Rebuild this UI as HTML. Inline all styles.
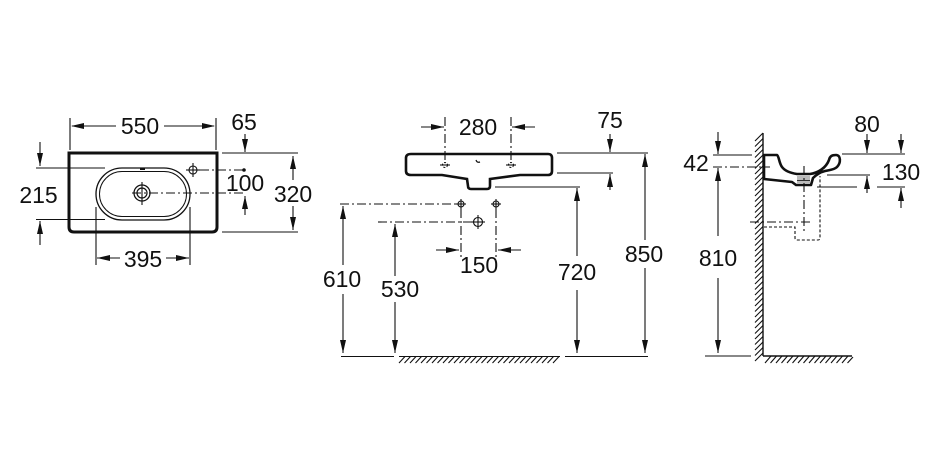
<!DOCTYPE html>
<html><head><meta charset="utf-8"><style>
html,body{margin:0;padding:0;background:#fff;}
svg{display:block;}
text{font-family:"Liberation Sans",Arial,sans-serif;font-size:23px;fill:#111;text-anchor:middle;}
</style></head><body>
<svg width="950" height="450" viewBox="0 0 950 450" xmlns="http://www.w3.org/2000/svg">
<g stroke="#111" stroke-width="1.1" fill="none">
<!-- ============ LEFT VIEW ============ -->
<path d="M69 153 L217 153 L217 227 Q217 232 212 232 L74 232 Q69 232 69 227 Z" stroke-width="3"/>
<rect x="96" y="168" width="94" height="52" rx="26" stroke-width="1.3"/>
<rect x="99.5" y="171.5" width="87" height="45" rx="22.5" stroke-width="1"/>
<circle cx="142" cy="193" r="8" stroke-width="1.3"/>
<circle cx="142" cy="193" r="5" stroke-width="1.2"/>
<line x1="142" y1="182" x2="142" y2="205"/>
<line x1="132" y1="193" x2="246" y2="193" stroke-dasharray="9 3 2 3"/>
<circle cx="193" cy="170" r="4"/>
<line x1="186" y1="170" x2="200" y2="170"/>
<line x1="193" y1="163" x2="193" y2="177"/>
<line x1="200" y1="170" x2="243" y2="170" stroke-dasharray="9 3 2 3"/>
<!-- 550 -->
<line x1="70" y1="118" x2="70" y2="150"/>
<line x1="216" y1="118" x2="216" y2="150"/>
<line x1="72" y1="126" x2="116" y2="126"/>
<line x1="164" y1="126" x2="214" y2="126"/>
<!-- 65 / 100 / 320 -->
<line x1="245" y1="134" x2="245" y2="152"/>
<line x1="245" y1="196" x2="245" y2="215"/>
<line x1="222" y1="153" x2="298" y2="153"/>
<line x1="222" y1="232" x2="298" y2="232"/>
<line x1="293" y1="156" x2="293" y2="180"/>
<line x1="293" y1="206" x2="293" y2="230"/>
<!-- 215 -->
<line x1="36" y1="168" x2="105" y2="168"/>
<line x1="36" y1="219.5" x2="105" y2="219.5"/>
<line x1="40" y1="142" x2="40" y2="166"/>
<line x1="40" y1="221" x2="40" y2="245"/>
<!-- 395 -->
<line x1="96" y1="207" x2="96" y2="265"/>
<line x1="190" y1="207" x2="190" y2="265"/>
<line x1="97" y1="258" x2="120" y2="258"/>
<line x1="166" y1="258" x2="189" y2="258"/>

<!-- ============ MIDDLE VIEW ============ -->
<path d="M411 154 L548 154 Q552 154 552 158 L552 171 Q552 175 548 175 L520 175 L490 179 L490 186 Q490 189 487 189 L471 189 Q468 189 468 186 L467 179 L442 175 L411 175 Q406 175 406 171 L406 158 Q406 154 411 154 Z" stroke-width="2.6"/>
<line x1="445" y1="117" x2="445" y2="162" stroke-dasharray="9 3 2 3"/>
<line x1="511" y1="117" x2="511" y2="162" stroke-dasharray="9 3 2 3"/>
<circle cx="445" cy="165" r="2.5" stroke-dasharray="2 1.5"/>
<line x1="440" y1="165" x2="450" y2="165"/>
<circle cx="511" cy="165" r="2.5" stroke-dasharray="2 1.5"/>
<line x1="506" y1="165" x2="516" y2="165"/>
<path d="M476 160 Q477 163 480 162" stroke-width="1.2"/>
<!-- 280 -->
<line x1="421" y1="127" x2="444" y2="127"/>
<line x1="512" y1="127" x2="535" y2="127"/>
<!-- 75 / 720 / 850 -->
<line x1="557" y1="153" x2="648" y2="153"/>
<line x1="557" y1="173" x2="613" y2="173"/>
<line x1="495" y1="187" x2="580" y2="187"/>
<line x1="610" y1="134" x2="610" y2="152"/>
<line x1="610" y1="174" x2="610" y2="190"/>
<line x1="577" y1="188" x2="577" y2="256"/>
<line x1="577" y1="290" x2="577" y2="353"/>
<line x1="645" y1="154" x2="645" y2="240"/>
<line x1="645" y1="268" x2="645" y2="353"/>
<!-- 610 / 530 -->
<line x1="340" y1="204" x2="458" y2="204" stroke-dasharray="9 3 2 3"/>
<line x1="378" y1="222" x2="474" y2="222" stroke-dasharray="9 3 2 3"/>
<circle cx="461" cy="204" r="3"/>
<line x1="456" y1="204" x2="466" y2="204"/>
<line x1="461" y1="199" x2="461" y2="209"/>
<circle cx="496" cy="204" r="3"/>
<line x1="491" y1="204" x2="501" y2="204"/>
<line x1="496" y1="199" x2="496" y2="209"/>
<circle cx="478" cy="222" r="4.5"/>
<line x1="471" y1="222" x2="485" y2="222"/>
<line x1="478" y1="215" x2="478" y2="229"/>
<line x1="461" y1="209" x2="461" y2="258" stroke-dasharray="9 3 2 3"/>
<line x1="496" y1="209" x2="496" y2="258" stroke-dasharray="9 3 2 3"/>
<line x1="436" y1="250" x2="459" y2="250"/>
<line x1="498" y1="250" x2="521" y2="250"/>
<line x1="343" y1="206" x2="343" y2="265"/>
<line x1="343" y1="294" x2="343" y2="353"/>
<line x1="395" y1="224" x2="395" y2="276"/>
<line x1="395" y1="302" x2="395" y2="353"/>
<!-- floor middle -->
<line x1="341" y1="356.5" x2="394" y2="356.5"/>
<line x1="399" y1="356.5" x2="560" y2="356.5"/>
<line x1="565" y1="356.5" x2="648" y2="356.5"/>
<path d="M399 363 L405 356.5 M404.5 363 L410.5 356.5 M410 363 L416 356.5 M415.5 363 L421.5 356.5 M421 363 L427 356.5 M426.5 363 L432.5 356.5 M432 363 L438 356.5 M437.5 363 L443.5 356.5 M443 363 L449 356.5 M448.5 363 L454.5 356.5 M454 363 L460 356.5 M459.5 363 L465.5 356.5 M465 363 L471 356.5 M470.5 363 L476.5 356.5 M476 363 L482 356.5 M481.5 363 L487.5 356.5 M487 363 L493 356.5 M492.5 363 L498.5 356.5 M498 363 L504 356.5 M503.5 363 L509.5 356.5 M509 363 L515 356.5 M514.5 363 L520.5 356.5 M520 363 L526 356.5 M525.5 363 L531.5 356.5 M531 363 L537 356.5 M536.5 363 L542.5 356.5 M542 363 L548 356.5 M547.5 363 L553.5 356.5 M553 363 L559 356.5"/>

<!-- ============ RIGHT VIEW ============ -->
<line x1="763" y1="133" x2="763" y2="356" stroke-width="1.4"/>
<path d="M755 141 L763 133 M755 146.5 L763 138.5 M755 152 L763 144 M755 157.5 L763 149.5 M755 163 L763 155 M755 168.5 L763 160.5 M755 174 L763 166 M755 179.5 L763 171.5 M755 185 L763 177 M755 190.5 L763 182.5 M755 196 L763 188 M755 201.5 L763 193.5 M755 207 L763 199 M755 212.5 L763 204.5 M755 218 L763 210 M755 223.5 L763 215.5 M755 229 L763 221 M755 234.5 L763 226.5 M755 240 L763 232 M755 245.5 L763 237.5 M755 251 L763 243 M755 256.5 L763 248.5 M755 262 L763 254 M755 267.5 L763 259.5 M755 273 L763 265 M755 278.5 L763 270.5 M755 284 L763 276 M755 289.5 L763 281.5 M755 295 L763 287 M755 300.5 L763 292.5 M755 306 L763 298 M755 311.5 L763 303.5 M755 317 L763 309 M755 322.5 L763 314.5 M755 328 L763 320 M755 333.5 L763 325.5 M755 339 L763 331 M755 344.5 L763 336.5 M755 350 L763 342 M755 355.5 L763 347.5 M755 361 L763 353"/>
<line x1="763" y1="356" x2="852" y2="356" stroke-width="1.4"/>
<line x1="705" y1="356" x2="751" y2="356"/>
<path d="M765 363 L771 356 M770.5 363 L776.5 356 M776 363 L782 356 M781.5 363 L787.5 356 M787 363 L793 356 M792.5 363 L798.5 356 M798 363 L804 356 M803.5 363 L809.5 356 M809 363 L815 356 M814.5 363 L820.5 356 M820 363 L826 356 M825.5 363 L831.5 356 M831 363 L837 356 M836.5 363 L842.5 356 M842 363 L848 356 M847.5 363 L853 357"/>
<!-- basin profile -->
<path d="M764 155 L777 155 C779 156 779 163 782 167 C785 171 790 173 797 174 L810 174 C818 173 826 168 829 160 C830 156 832 155 836 155 C841 155 841 163 837 167 C834 170 829 170 825 171 C821 172 816 175 813 178 L811 185 L796 185 L792 182 L764 179 Z" stroke-width="2.6" stroke-linejoin="round"/>
<rect x="797" y="176" width="13" height="8" fill="#bbb" stroke="none"/>
<line x1="797" y1="180.5" x2="810" y2="180.5" stroke-width="0.8"/>
<line x1="804" y1="166" x2="804" y2="232" stroke-dasharray="9 3 2 3"/>
<line x1="750" y1="222" x2="813" y2="222" stroke-dasharray="9 3 2 3"/>
<path d="M764 227 L795 227 L795 238 Q795 240 797 240 L818 240 Q820 240 820 238 L820 176" stroke-dasharray="3 2"/>
<!-- 42 / 810 -->
<line x1="718" y1="132" x2="718" y2="154"/>
<line x1="713" y1="155" x2="752" y2="155"/>
<line x1="713" y1="167" x2="770" y2="167" stroke-dasharray="9 3 2 3"/>
<line x1="718" y1="168" x2="718" y2="236"/>
<line x1="718" y1="278" x2="718" y2="353"/>
<!-- 80 / 130 -->
<line x1="842" y1="154" x2="905" y2="154"/>
<line x1="867" y1="134" x2="867" y2="153"/>
<line x1="901" y1="134" x2="901" y2="153"/>
<line x1="827" y1="175" x2="870" y2="175"/>
<line x1="817" y1="187" x2="857" y2="187"/>
<line x1="877" y1="187" x2="905" y2="187"/>
<line x1="867" y1="176" x2="867" y2="193"/>
<line x1="901" y1="188" x2="901" y2="208"/>
</g>

<!-- arrowheads -->
<g fill="#111" stroke="none">
<polygon points="71,126 84,123 84,129"/>
<polygon points="215,126 202,123 202,129"/>
<polygon points="245,152 242,139 248,139"/>
<polygon points="245,196 242,209 248,209"/>
<polygon points="293,156 290,169 296,169"/>
<polygon points="293,230 290,217 296,217"/>
<polygon points="40,166 37,153 43,153"/>
<polygon points="40,221 37,234 43,234"/>
<polygon points="97,258 110,255 110,261"/>
<polygon points="189,258 176,255 176,261"/>

<polygon points="444,127 431,124 431,130"/>
<polygon points="512,127 525,124 525,130"/>
<polygon points="610,152 607,139 613,139"/>
<polygon points="610,174 607,187 613,187"/>
<polygon points="577,188 574,201 580,201"/>
<polygon points="577,353 574,340 580,340"/>
<polygon points="645,154 642,167 648,167"/>
<polygon points="645,353 642,340 648,340"/>
<polygon points="343,206 340,219 346,219"/>
<polygon points="343,353 340,340 346,340"/>
<polygon points="395,224 392,237 398,237"/>
<polygon points="395,353 392,340 398,340"/>
<polygon points="459,250 446,247 446,253"/>
<polygon points="498,250 511,247 511,253"/>

<polygon points="718,154 715,141 721,141"/>
<polygon points="718,168 715,181 721,181"/>
<polygon points="718,353 715,340 721,340"/>
<polygon points="867,153 864,140 870,140"/>
<polygon points="901,153 898,140 904,140"/>
<polygon points="867,176 864,189 870,189"/>
<polygon points="901,188 898,201 904,201"/>

<rect x="140" y="167.5" width="5" height="2.5"/>
<circle cx="244" cy="170" r="1.8"/>
</g>

<!-- labels -->
<text x="140" y="134">550</text>
<text x="244" y="130">65</text>
<text x="38.5" y="203">215</text>
<text x="245" y="191">100</text>
<text x="293" y="202">320</text>
<text x="143" y="267">395</text>

<text x="478" y="135">280</text>
<text x="610" y="128">75</text>
<text x="644" y="262">850</text>
<text x="577" y="280">720</text>
<text x="479" y="273">150</text>
<text x="400" y="297">530</text>
<text x="342" y="287">610</text>

<text x="696" y="171">42</text>
<text x="718" y="266">810</text>
<text x="867" y="132">80</text>
<text x="901" y="180">130</text>
</svg>
</body></html>
